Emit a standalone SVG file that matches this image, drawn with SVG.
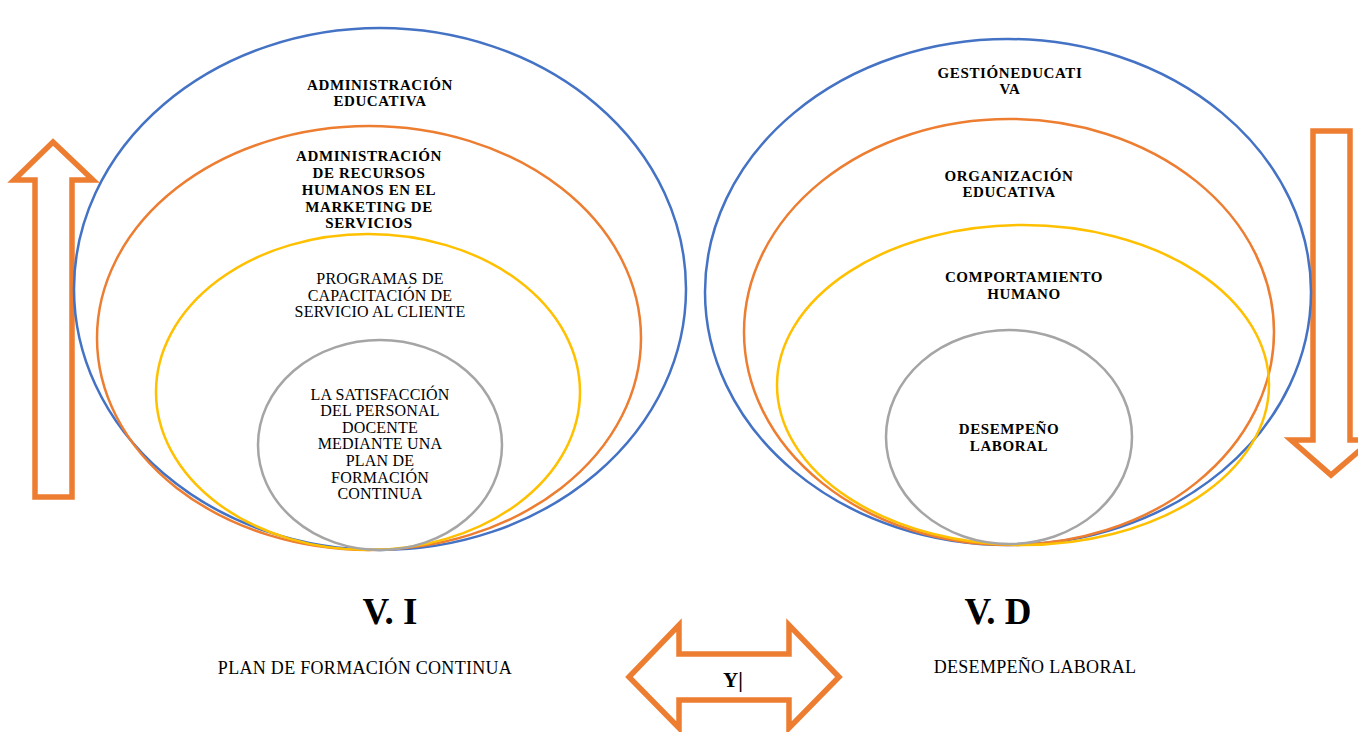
<svg xmlns="http://www.w3.org/2000/svg" width="1358" height="732" viewBox="0 0 1358 732">
<style>
.e{fill:none;stroke-width:2.5}
.b{stroke:#4472C4}.o{stroke:#ED7D31}.y{stroke:#FFC000}.g{stroke:#A5A5A5}
.arr{fill:#fff;stroke:#ED7D31;stroke-width:5.5;stroke-linejoin:miter}
text{font-family:"Liberation Serif","Times New Roman",serif;fill:#000;text-anchor:middle}
.tb{font-weight:bold;font-size:15px;letter-spacing:0.6px}
.tr{font-size:16px;letter-spacing:0.2px}
.big{font-weight:bold;font-size:37px}
.cap{font-size:18px;letter-spacing:0.3px}
</style>
<rect width="1358" height="732" fill="#fff"/>
<g id="arrows">
<path class="arr" d="M53,142 L93,180 L72,180 L72,497 L35,497 L35,180 L14,180 Z"/>
<path class="arr" d="M1313,131 L1350,131 L1350,440 L1372,440 L1331,475 L1291,440 L1313,440 Z"/>
<path class="arr" d="M629,677 L679,625 L679,654 L789,654 L789,625 L839,677 L789,728 L789,700 L679,700 L679,728 Z"/>
</g>
<g id="left-blue"><ellipse class="e b" cx="380" cy="289" rx="306" ry="261"/>
<text class="tb" x="380" y="90">ADMINISTRACIÓN</text><text class="tb" x="380" y="106">EDUCATIVA</text></g>
<g id="left-orange"><ellipse class="e o" cx="369" cy="338" rx="272" ry="212"/>
<text class="tb"><tspan x="369" y="161">ADMINISTRACIÓN</tspan><tspan x="369" y="178">DE RECURSOS</tspan><tspan x="369" y="195">HUMANOS EN EL</tspan><tspan x="369" y="212">MARKETING DE</tspan><tspan x="369" y="228">SERVICIOS</tspan></text></g>
<g id="left-yellow"><ellipse class="e y" cx="368" cy="392" rx="212" ry="158"/>
<text class="tr"><tspan x="380" y="284">PROGRAMAS DE</tspan><tspan x="380" y="301">CAPACITACIÓN DE</tspan><tspan x="380" y="317">SERVICIO AL CLIENTE</tspan></text></g>
<g id="left-gray"><ellipse class="e g" cx="380" cy="445" rx="122" ry="105"/>
<text class="tr"><tspan x="380" y="400">LA SATISFACCIÓN</tspan><tspan x="380" y="416">DEL PERSONAL</tspan><tspan x="380" y="433">DOCENTE</tspan><tspan x="380" y="449">MEDIANTE UNA</tspan><tspan x="380" y="466">PLAN DE</tspan><tspan x="380" y="483">FORMACIÓN</tspan><tspan x="380" y="499">CONTINUA</tspan></text></g>
<g id="right-blue"><ellipse class="e b" cx="1008" cy="292" rx="303" ry="253"/>
<text class="tb"><tspan x="1010" y="78">GESTIÓNEDUCATI</tspan><tspan x="1010" y="94">VA</tspan></text></g>
<g id="right-orange"><ellipse class="e o" cx="1009" cy="332" rx="265" ry="213"/>
<text class="tb"><tspan x="1009" y="181">ORGANIZACIÓN</tspan><tspan x="1009" y="197">EDUCATIVA</tspan></text></g>
<g id="right-yellow"><ellipse class="e y" cx="1023" cy="385" rx="246" ry="160"/>
<text class="tb"><tspan x="1024" y="282">COMPORTAMIENTO</tspan><tspan x="1024" y="299">HUMANO</tspan></text></g>
<g id="right-gray"><ellipse class="e g" cx="1009" cy="437" rx="123" ry="107"/>
<text class="tb"><tspan x="1009" y="434">DESEMPEÑO</tspan><tspan x="1009" y="451">LABORAL</tspan></text></g>
<g id="labels">
<text class="big" x="390" y="624">V. I</text>
<text class="big" x="998" y="624">V. D</text>
<text class="cap" x="365" y="674">PLAN DE FORMACIÓN CONTINUA</text>
<text class="cap" x="1035" y="673">DESEMPEÑO LABORAL</text>
<text x="733" y="687" style="font-weight:bold;font-size:21px">Y|</text>
</g>
</svg>
